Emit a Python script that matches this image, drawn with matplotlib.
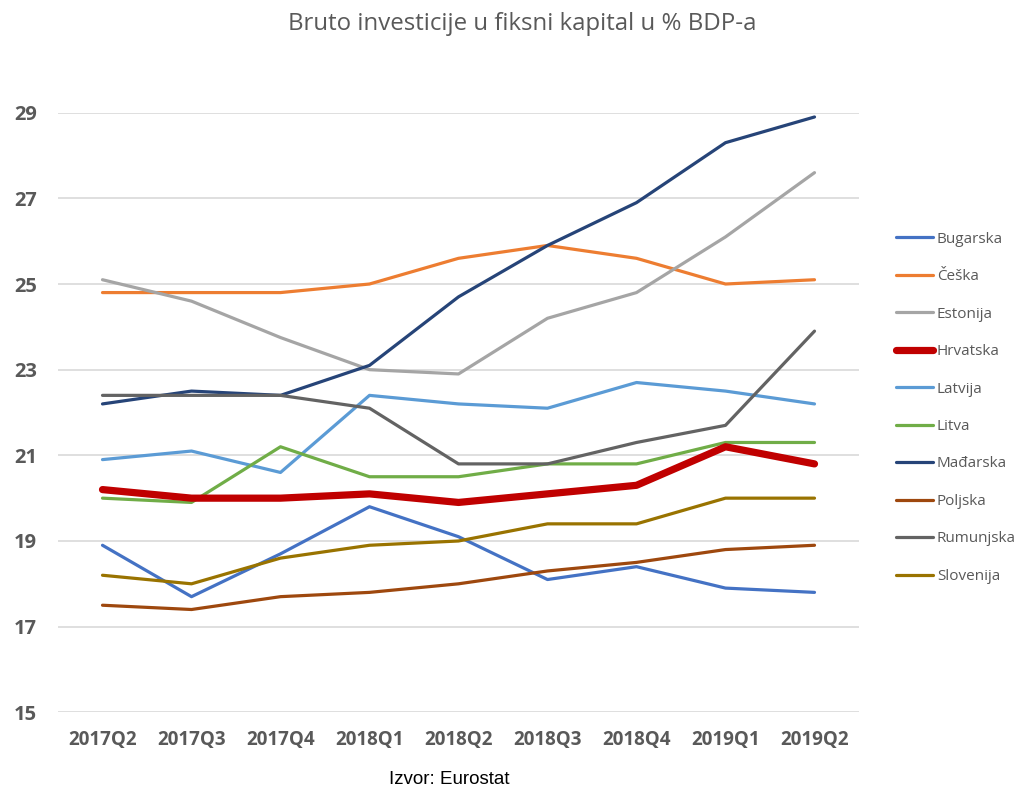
import numpy as np
import matplotlib
matplotlib.use("Agg")
import matplotlib.pyplot as plt

# podaci: bruto investicije u fiksni kapital, % BDP-a
quarters = ['2017Q2', '2017Q3', '2017Q4', '2018Q1', '2018Q2',
            '2018Q3', '2018Q4', '2019Q1', '2019Q2']

bugarska = [18.9, 17.7, 18.7, 19.8, 19.1, 18.1, 18.4, 17.9, 17.8]
ceska = [24.8, 24.8, 24.8, 25.0, 25.6, 25.9, 25.6, 25.0, 25.1]
estonija = [25.1, 24.6, 23.75, 23.0, 22.9, 24.2, 24.8, 26.1, 27.6]
hrvatska = [20.2, 20.0, 20.0, 20.1, 19.9, 20.1, 20.3, 21.2, 20.8]
latvija = [20.9, 21.1, 20.6, 22.4, 22.2, 22.1, 22.7, 22.5, 22.2]
litva = [20.0, 19.9, 21.2, 20.5, 20.5, 20.8, 20.8, 21.3, 21.3]
madarska = [22.2, 22.5, 22.4, 23.1, 24.7, 25.9, 26.9, 28.3, 28.9]
poljska = [17.5, 17.4, 17.7, 17.8, 18.0, 18.3, 18.5, 18.8, 18.9]
rumunjska = [22.4, 22.4, 22.4, 22.1, 20.8, 20.8, 21.3, 21.7, 23.9]
slovenija = [18.2, 18.0, 18.6, 18.9, 19.0, 19.4, 19.4, 20.0, 20.0]

series = [
    ('Bugarska', bugarska, '#4472C4'),
    ('Češka', ceska, '#ED7D31'),
    ('Estonija', estonija, '#A5A5A5'),
    ('Hrvatska', hrvatska, '#C00000'),
    ('Latvija', latvija, '#5B9BD5'),
    ('Litva', litva, '#70AD47'),
    ('Mađarska', madarska, '#264478'),
    ('Poljska', poljska, '#9E480E'),
    ('Rumunjska', rumunjska, '#636363'),
    ('Slovenija', slovenija, '#997300'),
]

plt.rcParams['font.family'] = ['Open Sans', 'DejaVu Sans']

fig = plt.figure(figsize=(10.24, 7.91), dpi=100)
ax = fig.add_axes([58/1024, 1 - 712.3/791, (859 - 58)/1024, (712.3 - 112.7)/791])

x = np.arange(len(quarters))
for name, vals, col in series:
    if name == 'Hrvatska':
        ax.plot(x, vals, color=col, lw=5.2, solid_capstyle='round',
                solid_joinstyle='round', label=name, zorder=3)
    else:
        ax.plot(x, vals, color=col, lw=2.3, solid_capstyle='round',
                label=name, zorder=2)

ax.set_xlim(-0.5, len(quarters) - 0.5)
ax.set_ylim(15, 29)
ax.set_yticks(np.arange(15, 30, 2))
ax.set_xticks(x)
ax.set_xticklabels(quarters)
ax.grid(axis='y', color='#D9D9D9', lw=1.2)
ax.set_axisbelow(True)
for s in ax.spines.values():
    s.set_visible(False)
ax.tick_params(length=0)
ax.tick_params(axis='y', pad=15)
ax.tick_params(axis='x', pad=13)
for lab in ax.get_xticklabels():
    lab.set_fontweight('bold')
    lab.set_color('#595959')
    lab.set_fontsize(13.5)
for lab in ax.get_yticklabels():
    lab.set_fontweight('bold')
    lab.set_color('#595959')
    lab.set_fontsize(14.5)

fig.text(522/1024, 1 - 24/791, 'Bruto investicije u fiksni kapital u % BDP-a',
         ha='center', va='center', fontsize=17.3, color='#595959')
fig.text(449/1024, 1 - 780/791, 'Izvor: Eurostat', ha='center', va='center',
         fontsize=13.5, color='#000000', family=['Liberation Sans', 'DejaVu Sans'])

leg = fig.legend(loc='upper left', bbox_to_anchor=(882/1024, 1 - 218/791),
                 frameon=False, fontsize=11, labelspacing=1.47,
                 handlelength=2.45, handletextpad=0.25)
for t in leg.get_texts():
    t.set_color('#595959')

fig.savefig('out.png', dpi=100)
